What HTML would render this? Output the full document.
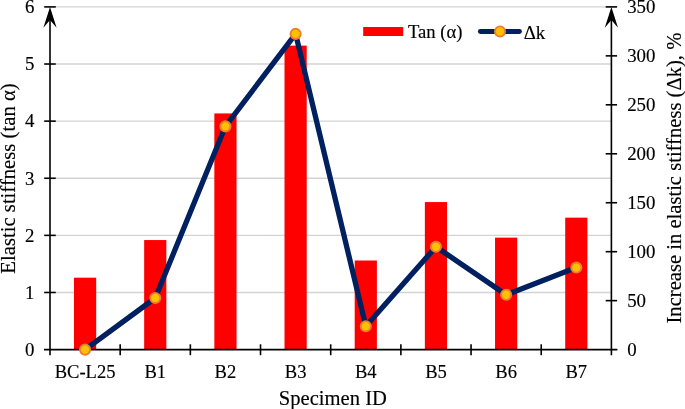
<!DOCTYPE html>
<html><head><meta charset="utf-8"><title>chart</title>
<style>
html,body{margin:0;padding:0;background:#fff;}
body{width:685px;height:409px;overflow:hidden;}
svg{display:block;will-change:transform;}
text{font-family:"Liberation Serif",serif;fill:#000;stroke:#000;stroke-width:0.15px;}
.tk{font-size:18.3px;}
.tt{font-size:20.8px;}
</style></head><body>
<svg width="685" height="409" viewBox="0 0 685 409">
<rect x="0" y="0" width="685" height="409" fill="#ffffff"/>

<g stroke="#d3d3d3" stroke-width="1.4" fill="none">
<line x1="56.00" y1="292.48" x2="611.40" y2="292.48"/>
<line x1="56.00" y1="235.37" x2="611.40" y2="235.37"/>
<line x1="56.00" y1="178.25" x2="611.40" y2="178.25"/>
<line x1="56.00" y1="121.13" x2="611.40" y2="121.13"/>
<line x1="56.00" y1="64.02" x2="611.40" y2="64.02"/>
<line x1="56.00" y1="6.90" x2="611.40" y2="6.90"/>
</g>
<g fill="#ff0000">
<rect x="73.99" y="277.69" width="22.20" height="71.91"/>
<rect x="144.16" y="240.05" width="22.20" height="109.55"/>
<rect x="214.34" y="113.42" width="22.20" height="236.18"/>
<rect x="284.51" y="45.63" width="22.20" height="303.97"/>
<rect x="354.69" y="260.50" width="22.20" height="89.10"/>
<rect x="424.86" y="202.07" width="22.20" height="147.53"/>
<rect x="495.04" y="237.65" width="22.20" height="111.95"/>
<rect x="565.21" y="217.66" width="22.20" height="131.94"/>
</g>
<g stroke="#000" stroke-width="1.6" fill="none">
<line x1="44.00" y1="349.60" x2="617.40" y2="349.60"/>
<line x1="50.00" y1="355.20" x2="50.00" y2="16.90"/>
<line x1="611.40" y1="355.20" x2="611.40" y2="16.90"/>
<line x1="120.17" y1="344.30" x2="120.17" y2="355.20"/>
<line x1="190.35" y1="344.30" x2="190.35" y2="355.20"/>
<line x1="260.52" y1="344.30" x2="260.52" y2="355.20"/>
<line x1="330.70" y1="344.30" x2="330.70" y2="355.20"/>
<line x1="400.88" y1="344.30" x2="400.88" y2="355.20"/>
<line x1="471.05" y1="344.30" x2="471.05" y2="355.20"/>
<line x1="541.22" y1="344.30" x2="541.22" y2="355.20"/>
<line x1="44.20" y1="292.48" x2="55.80" y2="292.48"/>
<line x1="44.20" y1="235.37" x2="55.80" y2="235.37"/>
<line x1="44.20" y1="178.25" x2="55.80" y2="178.25"/>
<line x1="44.20" y1="121.13" x2="55.80" y2="121.13"/>
<line x1="44.20" y1="64.02" x2="55.80" y2="64.02"/>
<line x1="44.20" y1="6.90" x2="55.80" y2="6.90"/>
<line x1="605.70" y1="300.64" x2="617.10" y2="300.64"/>
<line x1="605.70" y1="251.69" x2="617.10" y2="251.69"/>
<line x1="605.70" y1="202.73" x2="617.10" y2="202.73"/>
<line x1="605.70" y1="153.77" x2="617.10" y2="153.77"/>
<line x1="605.70" y1="104.81" x2="617.10" y2="104.81"/>
<line x1="605.70" y1="55.86" x2="617.10" y2="55.86"/>
<line x1="605.70" y1="6.90" x2="617.10" y2="6.90"/>
</g>
<path d="M50.00 7.10 L56.60 27.80 L50.00 20.10 L43.40 27.80 Z" fill="#000"/>
<path d="M611.40 7.10 L618.00 27.80 L611.40 20.10 L604.80 27.80 Z" fill="#000"/>
<polyline fill="none" stroke="#002060" stroke-width="5.3" stroke-linejoin="round" stroke-linecap="round" points="85.09,349.60 155.26,298.00 225.44,126.36 295.61,33.92 365.79,326.20 435.96,246.79 506.14,294.77 576.31,267.55"/>
<g fill="#ffc000" stroke="#ed7d31" stroke-width="1.9">
<circle cx="85.09" cy="349.60" r="5.1"/>
<circle cx="155.26" cy="298.00" r="5.1"/>
<circle cx="225.44" cy="126.36" r="5.1"/>
<circle cx="295.61" cy="33.92" r="5.1"/>
<circle cx="365.79" cy="326.20" r="5.1"/>
<circle cx="435.96" cy="246.79" r="5.1"/>
<circle cx="506.14" cy="294.77" r="5.1"/>
<circle cx="576.31" cy="267.55" r="5.1"/>
</g>
<rect x="363.2" y="27" width="40" height="9" fill="#ff0000"/>
<text class="tk" transform="translate(408,38.4) scale(1.02,1)">Tan (α)</text>
<line x1="480.3" y1="31.5" x2="519.5" y2="31.5" stroke="#002060" stroke-width="4.8" stroke-linecap="round"/>
<circle cx="500" cy="31.5" r="5.1" fill="#ffc000" stroke="#ed7d31" stroke-width="1.9"/>
<text class="tk" transform="translate(523.7,38.5) scale(1.03,1)">Δk</text>
<text class="tk" transform="translate(34.4,355.90) scale(1.03,1)" text-anchor="end">0</text>
<text class="tk" transform="translate(34.4,298.78) scale(1.03,1)" text-anchor="end">1</text>
<text class="tk" transform="translate(34.4,241.67) scale(1.03,1)" text-anchor="end">2</text>
<text class="tk" transform="translate(34.4,184.55) scale(1.03,1)" text-anchor="end">3</text>
<text class="tk" transform="translate(34.4,127.43) scale(1.03,1)" text-anchor="end">4</text>
<text class="tk" transform="translate(34.4,70.32) scale(1.03,1)" text-anchor="end">5</text>
<text class="tk" transform="translate(34.4,13.20) scale(1.03,1)" text-anchor="end">6</text>
<text class="tk" transform="translate(627.2,355.50) scale(1.03,1)">0</text>
<text class="tk" transform="translate(627.2,306.54) scale(1.03,1)">50</text>
<text class="tk" transform="translate(627.2,257.59) scale(1.03,1)">100</text>
<text class="tk" transform="translate(627.2,208.63) scale(1.03,1)">150</text>
<text class="tk" transform="translate(627.2,159.67) scale(1.03,1)">200</text>
<text class="tk" transform="translate(627.2,110.71) scale(1.03,1)">250</text>
<text class="tk" transform="translate(627.2,61.76) scale(1.03,1)">300</text>
<text class="tk" transform="translate(627.2,12.80) scale(1.03,1)">350</text>
<text class="tk" transform="translate(85.09,377.6) scale(1.015,1)" text-anchor="middle">BC-L25</text>
<text class="tk" transform="translate(155.26,377.6) scale(1.015,1)" text-anchor="middle">B1</text>
<text class="tk" transform="translate(225.44,377.6) scale(1.015,1)" text-anchor="middle">B2</text>
<text class="tk" transform="translate(295.61,377.6) scale(1.015,1)" text-anchor="middle">B3</text>
<text class="tk" transform="translate(365.79,377.6) scale(1.015,1)" text-anchor="middle">B4</text>
<text class="tk" transform="translate(435.96,377.6) scale(1.015,1)" text-anchor="middle">B5</text>
<text class="tk" transform="translate(506.14,377.6) scale(1.015,1)" text-anchor="middle">B6</text>
<text class="tk" transform="translate(576.31,377.6) scale(1.015,1)" text-anchor="middle">B7</text>
<text class="tt" style="font-size:20.6px" x="332.9" y="404.8" text-anchor="middle">Specimen ID</text>
<text class="tt" style="font-size:20.7px" transform="translate(14.7,178.5) rotate(-90)" text-anchor="middle">Elastic stiffness (tan α)</text>
<text class="tt" style="font-size:20.6px" transform="translate(680.9,178.1) rotate(-90)" text-anchor="middle">Increase in elastic stiffness (Δk), %</text>
</svg></body></html>
